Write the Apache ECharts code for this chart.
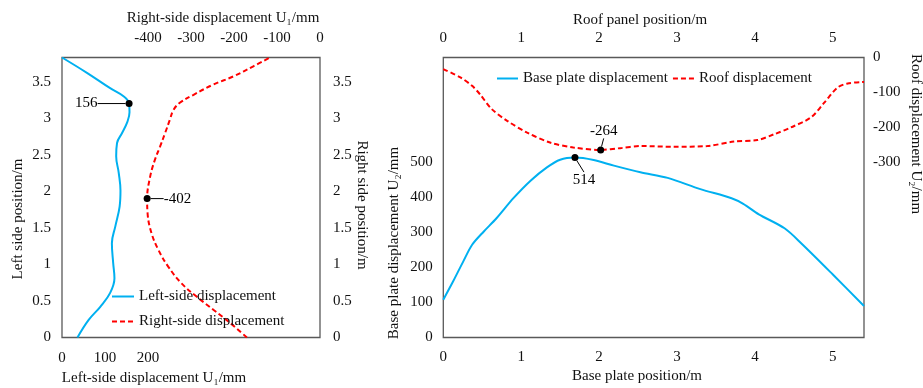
<!DOCTYPE html>
<html>
<head>
<meta charset="utf-8">
<script src="https://cdn.jsdelivr.net/npm/echarts@6/dist/echarts.min.js"></script>
<style>
html,body{margin:0;padding:0;background:#fff;}
#chart{width:923px;height:388px;}
</style>
</head>
<body>
<div id="chart"></div>
<script>
// left panel: side wall displacement vs height
var leftPos  = [0, 0.24, 0.42, 0.61, 0.81, 1.02, 1.29, 1.52, 1.79, 2.01, 2.25, 2.48, 2.66, 2.8, 2.95, 3.08, 3.2, 3.3, 3.41, 3.62, 3.83];
var leftDisp = [36, 62, 89, 112, 122, 119, 116, 124, 134, 136, 132, 126, 128, 140, 152, 157, 156, 143, 112, 58, 0];
var rightPos  = [0, 0.2, 0.38, 0.56, 0.74, 0.97, 1.2, 1.43, 1.7, 1.9, 2.2, 2.43, 2.61, 2.8, 2.98, 3.11, 3.21, 3.32, 3.46, 3.57, 3.71, 3.83];
var rightDisp = [-170, -209, -248, -287, -322, -353, -376, -392, -401, -402, -395, -384, -372, -360, -349, -341, -326, -294, -248, -202, -155, -116];

// right panel: base plate and roof displacement
var basePos  = [0, 0.13, 0.26, 0.37, 0.52, 0.68, 0.9, 1.12, 1.33, 1.5, 1.69, 1.93, 2.19, 2.53, 2.88, 3.3, 3.7, 3.85, 4.05, 4.38, 4.6, 5.0, 5.4];
var baseDisp = [108, 162, 219, 265, 303, 340, 398, 448, 486, 508, 514, 507, 491, 472, 456, 424, 398, 382, 352, 312, 268, 180, 90];
var roofPos  = [0, 0.22, 0.37, 0.47, 0.62, 0.82, 1.07, 1.37, 1.67, 2.02, 2.27, 2.53, 2.96, 3.39, 3.73, 4.03, 4.25, 4.46, 4.72, 4.89, 5.06, 5.19, 5.4];
var roofDisp = [-33, -57, -81, -105, -147, -181, -214, -243, -257, -264, -259, -253, -255, -253, -240, -236, -219, -200, -171, -129, -86, -74, -70];

// marked extreme points [x, y]
var leftPeak  = [156, 3.2];
var rightPeak = [-402, 1.9];
var basePeak  = [1.69, 514];
var roofPeak  = [2.02, -264];

var FONT = 'Liberation Serif';
var TXT = '#111';
var BLUE = '#00b0f0';
var RED = '#ff0000';

function pairs(xs, ys) {
    return xs.map(function (x, i) { return [x, ys[i]]; });
}

function axis(o, labelTest, margin) {
    o.axisLine = {show: false};
    o.axisTick = {show: false};
    o.splitLine = {show: false};
    o.axisLabel = {
        margin: margin,
        fontFamily: FONT, fontSize: 15, color: TXT,
        formatter: function (v) { return labelTest(v) ? String(+v.toFixed(2)) : ''; }
    };
    return o;
}

function isStep(step) {
    return function (v) { return Math.abs(v / step - Math.round(v / step)) < 1e-6; };
}

function title(text, x, y, rot) {
    return {
        type: 'text', x: x, y: y, rotation: rot || 0,
        style: {
            text: text, fill: TXT, fontFamily: FONT, fontSize: 15,
            align: 'center', verticalAlign: 'middle',
            textAlign: 'center', textVerticalAlign: 'middle'
        }
    };
}

function peak(name, pt, xi, yi, pos, dx, dy) {
    return {
        name: name, type: 'scatter', xAxisIndex: xi, yAxisIndex: yi,
        symbolSize: 7, itemStyle: {color: '#000', opacity: 1}, z: 5,
        data: [pt],
        label: {
            show: true, position: pos, distance: 5,
            fontFamily: FONT, fontSize: 15, color: '#000', opacity: 1,
            formatter: name
        },
        labelLayout: {dx: dx, dy: dy},
        labelLine: {show: true, lineStyle: {color: '#000', width: 1, opacity: 1}}
    };
}

var chart = echarts.init(document.getElementById('chart'));

var option = {
    animation: false,
    backgroundColor: '#fff',
    grid: [
        {left: 62, top: 57.5, width: 258, height: 280, show: true, borderColor: '#595959', borderWidth: 1.3, backgroundColor: 'transparent'},
        {left: 443.3, top: 57.5, width: 420.7, height: 280, show: true, borderColor: '#595959', borderWidth: 1.3, backgroundColor: 'transparent'}
    ],
    xAxis: [
        axis({type: 'value', gridIndex: 0, position: 'bottom', min: 0, max: 600, interval: 100},
            function (v) { return v <= 200; }, 13),
        axis({type: 'value', gridIndex: 0, position: 'top', min: -600, max: 0, interval: 100},
            function (v) { return v >= -400; }, 11.5),
        axis({type: 'value', gridIndex: 1, position: 'bottom', min: 0, max: 5.4, interval: 1},
            isStep(1), 12),
        axis({type: 'value', gridIndex: 1, position: 'top', min: 0, max: 5.4, interval: 1},
            isStep(1), 11.5)
    ],
    yAxis: [
        axis({type: 'value', gridIndex: 0, position: 'left', min: 0, max: 3.83, interval: 0.5},
            isStep(0.5), 11),
        axis({type: 'value', gridIndex: 0, position: 'right', min: 0, max: 3.83, interval: 0.5},
            isStep(0.5), 13),
        axis({type: 'value', gridIndex: 1, position: 'left', min: 0, max: 800, interval: 100},
            function (v) { return v <= 500; }, 10.5),
        axis({type: 'value', gridIndex: 1, position: 'right', min: -800, max: 0, interval: 100},
            function (v) { return v >= -300; }, 9)
    ],
    legend: [
        {
            data: ['Left-side displacement', 'Right-side displacement'],
            orient: 'vertical', left: 111, top: 289, itemGap: 10, padding: 0,
            itemWidth: 22, itemHeight: 14,
            itemStyle: {opacity: 0},
            textStyle: {fontFamily: FONT, fontSize: 15, color: TXT}
        },
        {
            data: ['Base plate displacement', 'Roof displacement'],
            orient: 'horizontal', left: 496, top: 71, itemGap: 4, padding: 0,
            itemWidth: 21, itemHeight: 14,
            itemStyle: {opacity: 0},
            textStyle: {fontFamily: FONT, fontSize: 15, color: TXT}
        }
    ],
    graphic: [
        title('Right-side displacement U\u2081/mm', 223, 18),
        title('Left-side displacement U\u2081/mm', 154, 378),
        title('Left side position/m', 18, 219, Math.PI / 2),
        title('Right side position/m', 362, 205, -Math.PI / 2),
        title('Roof panel position/m', 640, 20),
        title('Base plate position/m', 637, 376),
        title('Base plate displacement U\u2082/mm', 394, 243, Math.PI / 2),
        title('Roof displacement U\u2082/mm', 916, 134, -Math.PI / 2)
    ],
    series: [
        {
            name: 'Left-side displacement', type: 'line', xAxisIndex: 0, yAxisIndex: 0,
            data: pairs(leftDisp, leftPos), smooth: 0.4, symbol: 'none',
            lineStyle: {color: BLUE, width: 2}, itemStyle: {color: BLUE}
        },
        {
            name: 'Right-side displacement', type: 'line', xAxisIndex: 1, yAxisIndex: 1,
            data: pairs(rightDisp, rightPos), smooth: 0.4, symbol: 'none',
            lineStyle: {color: RED, width: 2, type: [5, 3]}, itemStyle: {color: RED}
        },
        {
            name: 'Base plate displacement', type: 'line', xAxisIndex: 2, yAxisIndex: 2,
            data: pairs(basePos, baseDisp), smooth: 0.3, symbol: 'none',
            lineStyle: {color: BLUE, width: 2}, itemStyle: {color: BLUE}
        },
        {
            name: 'Roof displacement', type: 'line', xAxisIndex: 3, yAxisIndex: 3,
            data: pairs(roofPos, roofDisp), smooth: 0.3, symbol: 'none',
            lineStyle: {color: RED, width: 2, type: [5, 3]}, itemStyle: {color: RED}
        },
        peak('156', leftPeak, 0, 0, 'left', -23, 0),
        peak('-402', rightPeak, 1, 1, 'right', 8, 0),
        peak('514', basePeak, 2, 2, 'bottom', 9, 6),
        peak('-264', roofPeak, 3, 3, 'top', 3, -3)
    ]
};

chart.setOption(option);
</script>
</body>
</html>
